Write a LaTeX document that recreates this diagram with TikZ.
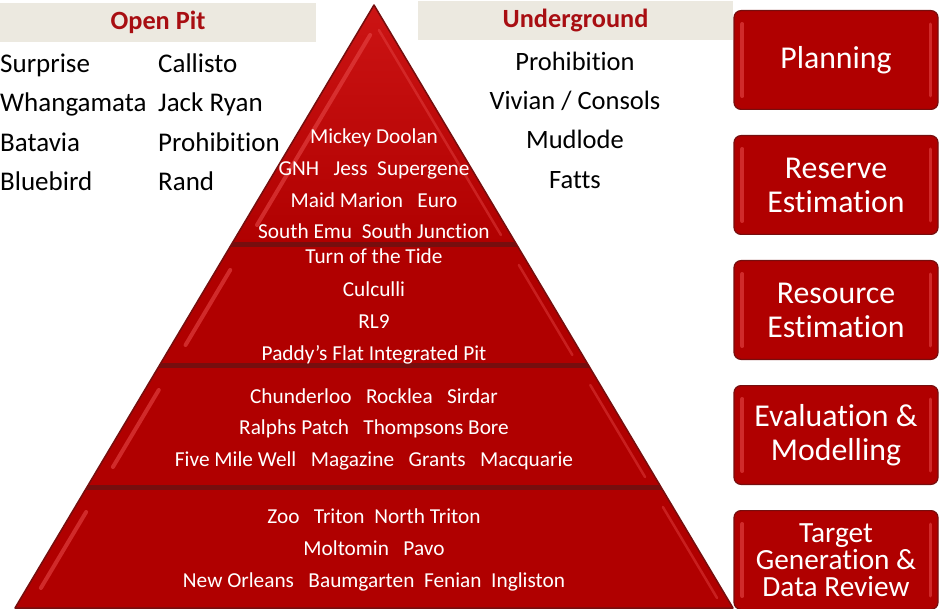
\documentclass[tikz,border=0pt]{standalone}
\usepackage{fontspec}
\setmainfont{Carlito}[Ligatures={NoCommon}]
\usetikzlibrary{positioning}
\definecolor{pyrred}{RGB}{176,0,0}
\definecolor{pyrtop}{RGB}{204,20,20}
\definecolor{pyrdark}{RGB}{118,14,14}
\definecolor{pyrlight}{RGB}{230,70,70}
\definecolor{headbg}{RGB}{236,233,224}
\definecolor{headred}{RGB}{168,14,18}
\begin{document}
\begin{tikzpicture}[x=1pt,y=-1pt,
	head/.style={fill=headbg,text=headred,font=\fontsize{26.3}{30}\selectfont\bfseries,minimum height=39pt,inner sep=0pt},
	site/.style={font=\fontsize{27}{30}\selectfont,anchor=base west,inner sep=0pt},
	ugsite/.style={font=\fontsize{26.5}{30}\selectfont,anchor=base,inner sep=0pt},
	mine/.style={text=white,font=\fontsize{21.3}{24}\selectfont,anchor=base,inner sep=0pt},
	phase/.style={fill=pyrred,draw=pyrdark,line width=1.2pt,rounded corners=7pt,text=white,align=center,minimum width=204pt,minimum height=98.8pt,font=\fontsize{31.8}{34}\selectfont,inner sep=0pt},
	bevel/.style={pyrlight,line width=4pt,line cap=round,opacity=.6}]
	\useasboundingbox (0,0) rectangle (939,609);

	%headers
	\node[head,minimum width=316pt] (openpit) at (158,22.5) {Open Pit};
	\node[head,minimum width=315pt] (underground) at (575.5,20.5) {Underground};

	%open pit list
	\foreach \y/\a/\b [count=\i] in {73/Surprise/Callisto,112/Whangamata/Jack Ryan,152/Batavia/Prohibition,191/Bluebird/Rand}{
		\node[site] (opa\i) at (0,\y) {\a};
		\node[site] (opb\i) at (158,\y) {\b};
	}

	%underground list
	\foreach \y/\a [count=\i] in {71/Prohibition,110/{Vivian / Consols},149/Mudlode,189/Fatts}
		\node[ugsite] (ug\i) at (575,\y) {\a};

	%pyramid
	\begin{scope}
		\clip (374,5) -- (733,608) -- (15,608) -- cycle;
		\fill[pyrred] (374,5) -- (733,608) -- (15,608) -- cycle;
		\shade[top color=pyrtop,bottom color=pyrred] (374,5) -- (517,245) -- (231,245) -- cycle;
		\foreach \s in {245,365,487}
			\draw[pyrdark,line width=5pt] (0,\s) -- (939,\s);
		\foreach \t/\b in {20/235,255/355,375/477,497/598}{
			\draw[bevel] ({374-0.5954*(\t+10)+14},\t+15) -- ({374-0.5954*(\b-15)+14},\b-10);
			\draw[bevel,line width=2.5pt,opacity=.45] ({374+0.5954*(\t+5)-10},\t+10) -- ({374+0.5954*(\b-5)-10},\b);
		}
	\end{scope}
	\draw[pyrdark,line width=1.5pt,line join=round] (374,5) -- (733,608) -- (15,608) -- cycle;

	%pyramid sites
	\foreach \y/\a [count=\i] in {144/Mickey Doolan,176/{GNH\ \ \ Jess\ \ Supergene},208/{Maid Marion\ \ \ Euro},239/{South Emu\ \ South Junction},
		264/Turn of the Tide,297/Culculli,329/RL9,360/Paddy’s Flat Integrated Pit,
		403/{Chunderloo\ \ \ Rocklea\ \ \ Sirdar},434/{Ralphs Patch\ \ \ Thompsons Bore},466/{Five Mile Well\ \ \ Magazine\ \ \ Grants\ \ \ Macquarie},
		523/{Zoo\ \ \ Triton\ \ North Triton},555/{Moltomin\ \ \ Pavo},587/{New Orleans\ \ \ Baumgarten\ \ Fenian\ \ Ingliston}}
		\node[mine] (mine\i) at (374,\y) {\a};

	%phases
	\node[phase] (plan) at (836,60) {Planning};
	\node[phase,below=25pt of plan] (reserve) {Reserve\\Estimation};
	\node[phase,below=25pt of reserve] (resource) {Resource\\Estimation};
	\node[phase,below=25pt of resource] (evalmod) {Evaluation \&\\Modelling};
	\node[phase,below=25pt of evalmod,font=\fontsize{29.3}{27}\selectfont] (target) {Target\\Generation \&\\Data Review};
	\foreach \n in {plan,reserve,resource,evalmod,target}{
		\draw[bevel] ([xshift=9pt,yshift=-14pt]\n.north west) -- ([xshift=9pt,yshift=14pt]\n.south west);
		\draw[bevel,line width=3pt] ([xshift=-8pt,yshift=-14pt]\n.north east) -- ([xshift=-8pt,yshift=14pt]\n.south east);
	}
\end{tikzpicture}
\end{document}
